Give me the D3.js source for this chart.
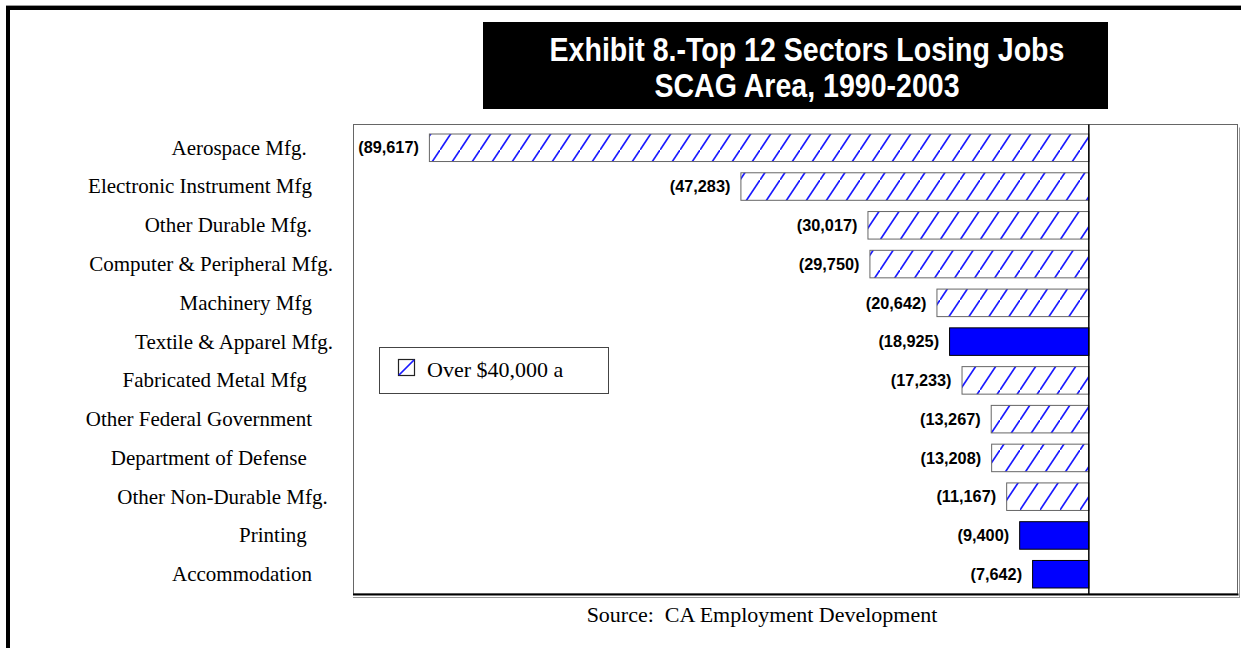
<!DOCTYPE html>
<html>
<head>
<meta charset="utf-8">
<script src="https://cdn.jsdelivr.net/npm/d3@7"></script>
<style>
  html, body { margin: 0; padding: 0; background: #fff; }
  svg { display: block; }
  .pre { white-space: pre; }
</style>
</head>
<body>
<svg id="chart" width="1241" height="648"></svg>
<script>
// Sector names as typed in the source workbook (trailing spaces kept)
const sectors = [
  "Aerospace Mfg.     ",
  "Electronic Instrument Mfg    ",
  "Other Durable Mfg.    ",
  "Computer & Peripheral Mfg.",
  "Machinery Mfg    ",
  "Textile & Apparel Mfg.",
  "Fabricated Metal Mfg     ",
  "Other Federal Government    ",
  "Department of Defense     ",
  "Other Non-Durable Mfg. ",
  "Printing     ",
  "Accommodation    "
];
// Net job change 1990-2003
const jobChange = [-89617, -47283, -30017, -29750, -20642, -18925, -17233, -13267, -13208, -11167, -9400, -7642];
// Average pay group of each sector
const payGroup = ["over40k", "over40k", "over40k", "over40k", "over40k", "under40k",
                  "over40k", "over40k", "over40k", "over40k", "under40k", "under40k"];
const legendLabels = ["Over $40,000 a"];
const titleLines = ["Exhibit 8.-Top 12 Sectors Losing Jobs", "SCAG Area, 1990-2003"];
const sourceNote = "Source:  CA Employment Development";
const xDomain = [-100000, 20000];

const svg = d3.select("#chart");
const W = 1241, H = 648;
const plot = { left: 353, right: 1236, top: 124.5, bottom: 594 };

// Hatch fill for the higher-wage sectors
const defs = svg.append("defs");
const hatch = defs.append("pattern")
  .attr("id", "hatch")
  .attr("patternUnits", "userSpaceOnUse")
  .attr("width", 20).attr("height", 30);
hatch.append("rect").attr("width", 20).attr("height", 30).attr("fill", "#fff");
hatch.append("line")
  .attr("x1", 0).attr("y1", 30).attr("x2", 20).attr("y2", 0)
  .attr("stroke", "#1a1aff").attr("stroke-width", 1.7);

// Page frame
svg.append("rect").attr("x", 6).attr("y", 6).attr("width", W - 6).attr("height", 4).attr("fill", "#000");
svg.append("rect").attr("x", 6).attr("y", 6).attr("width", 4).attr("height", H - 6).attr("fill", "#000");
svg.append("line").attr("x1", 6).attr("x2", W).attr("y1", 5.5).attr("y2", 5.5).attr("stroke", "#999");

// Title block (condensed bold sans)
svg.append("rect").attr("x", 483).attr("y", 22).attr("width", 625).attr("height", 87).attr("fill", "#000");
const title = svg.append("text")
  .attr("transform", "translate(807,0) scale(0.84,1)")
  .attr("fill", "#fff")
  .attr("font-family", "'Liberation Sans', Arial, sans-serif")
  .attr("font-weight", "bold")
  .attr("font-size", 34)
  .attr("text-anchor", "middle");
title.selectAll("tspan").data(titleLines).join("tspan")
  .attr("x", 0)
  .attr("y", (d, i) => 61 + i * 36)
  .text(d => d);

// Scales
const x = d3.scaleLinear().domain(xDomain).range([plot.left, plot.right]);
const y = d3.scaleBand().domain(sectors).range([128, 594]).paddingInner(0.29).paddingOuter(0.155);

// Plot area frame with shadow edge
svg.append("rect")
  .attr("x", plot.left + 0.5).attr("y", plot.top)
  .attr("width", 1237 - plot.left).attr("height", plot.bottom - plot.top)
  .attr("fill", "none").attr("stroke", "#666").attr("stroke-width", 1);
svg.append("line").attr("x1", plot.left).attr("x2", 1238.5).attr("y1", plot.bottom + 0.5).attr("y2", plot.bottom + 0.5)
  .attr("stroke", "#000").attr("stroke-width", 2);
svg.append("line").attr("x1", plot.left).attr("x2", 1239.5).attr("y1", plot.bottom + 3.5).attr("y2", plot.bottom + 3.5)
  .attr("stroke", "#999").attr("stroke-width", 1);
svg.append("line").attr("x1", 1239.5).attr("x2", 1239.5).attr("y1", plot.top + 3).attr("y2", plot.bottom + 4)
  .attr("stroke", "#999").attr("stroke-width", 1);

// Bars
const rows = sectors.map((s, i) => ({ sector: s, value: jobChange[i], group: payGroup[i] }));
svg.append("g").selectAll("rect").data(rows).join("rect")
  .attr("x", d => x(d.value))
  .attr("y", d => y(d.sector))
  .attr("width", d => x(0) - x(d.value))
  .attr("height", y.bandwidth())
  .attr("fill", d => d.group === "over40k" ? "url(#hatch)" : "#0000ff")
  .attr("stroke", d => d.group === "over40k" ? "#666" : "#000")
  .attr("stroke-width", 1);

// Zero line
svg.append("line")
  .attr("x1", x(0)).attr("x2", x(0))
  .attr("y1", plot.top).attr("y2", plot.bottom)
  .attr("stroke", "#000").attr("stroke-width", 1.5);

// Value labels
const fmt = d3.format(",");
svg.append("g").selectAll("text").data(rows).join("text")
  .attr("x", d => x(d.value) - 10.5)
  .attr("y", d => y(d.sector) + y.bandwidth() / 2)
  .attr("dy", "0.35em")
  .attr("text-anchor", "end")
  .attr("font-family", "'Liberation Sans', Arial, sans-serif")
  .attr("font-weight", "bold")
  .attr("font-size", 16.3)
  .attr("fill", "#000")
  .text(d => `(${fmt(Math.abs(d.value))})`);

// Category labels
svg.append("g").selectAll("text").data(sectors).join("text")
  .attr("class", "pre")
  .attr("x", 333)
  .attr("y", d => y(d) + y.bandwidth() / 2)
  .attr("dy", "0.33em")
  .attr("text-anchor", "end")
  .attr("font-family", "'Liberation Serif', 'Times New Roman', serif")
  .attr("font-size", 21)
  .attr("fill", "#000")
  .text(d => d);

// Legend
const lg = svg.append("g");
lg.append("rect").attr("x", 379.5).attr("y", 347.5).attr("width", 229).attr("height", 46)
  .attr("fill", "#fff").attr("stroke", "#444").attr("stroke-width", 1);
lg.append("rect").attr("x", 398.5).attr("y", 359.5).attr("width", 16).attr("height", 16)
  .attr("fill", "#fff").attr("stroke", "#222").attr("stroke-width", 1.2);
lg.append("line").attr("x1", 399).attr("y1", 375).attr("x2", 414).attr("y2", 360)
  .attr("stroke", "#1a1aff").attr("stroke-width", 1.7);
lg.append("text").data(legendLabels).attr("x", 427).attr("y", 377)
  .attr("font-family", "'Liberation Serif', 'Times New Roman', serif")
  .attr("font-size", 22).attr("fill", "#000")
  .text(d => d);

// Source note
svg.append("text")
  .attr("class", "pre")
  .attr("x", 762).attr("y", 622)
  .attr("text-anchor", "middle")
  .attr("font-family", "'Liberation Serif', 'Times New Roman', serif")
  .attr("font-size", 22)
  .attr("fill", "#000")
  .text(sourceNote);
</script>
</body>
</html>
